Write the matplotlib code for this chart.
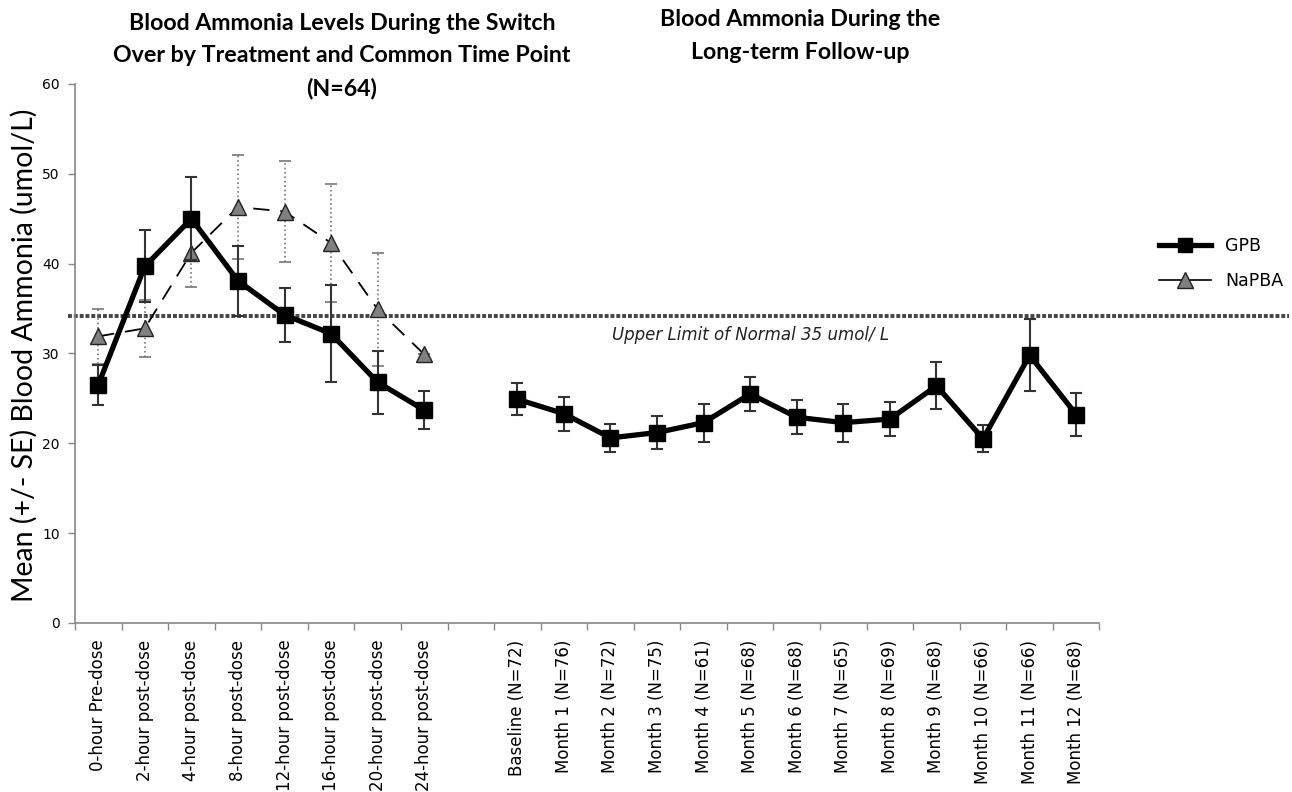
import numpy as np
import matplotlib
matplotlib.use("Agg")
import matplotlib.pyplot as plt
from matplotlib.lines import Line2D

# 데이터
switch_labels = ["0-hour Pre-dose", "2-hour post-dose", "4-hour post-dose", "8-hour post-dose",
                 "12-hour post-dose", "16-hour post-dose", "20-hour post-dose", "24-hour post-dose"]
gpb_switch = [26.5, 39.7, 45.0, 38.1, 34.3, 32.2, 26.8, 23.7]
gpb_switch_se = [2.2, 4.0, 4.6, 3.9, 3.0, 5.4, 3.5, 2.1]
napba_switch = [31.9, 32.8, 41.2, 46.3, 45.8, 42.3, 34.9, 29.9]
napba_switch_se = [3.1, 3.2, 3.8, 5.8, 5.6, 6.6, 6.3, 0.0]

followup_labels = ["Baseline (N=72)", "Month 1 (N=76)", "Month 2 (N=72)", "Month 3 (N=75)",
                   "Month 4 (N=61)", "Month 5 (N=68)", "Month 6 (N=68)", "Month 7 (N=65)",
                   "Month 8 (N=69)", "Month 9 (N=68)", "Month 10 (N=66)", "Month 11 (N=66)",
                   "Month 12 (N=68)"]
gpb_followup = [24.9, 23.3, 20.6, 21.2, 22.3, 25.5, 22.9, 22.3, 22.7, 26.4, 20.5, 29.8, 23.2]
gpb_followup_se = [1.8, 1.9, 1.6, 1.8, 2.1, 1.9, 1.9, 2.1, 1.9, 2.6, 1.5, 4.0, 2.4]

uln = 34.2  # 그림상 기준선 위치

# x 위치 (가운데 빈 칸 하나)
x_switch = np.arange(len(switch_labels))
x_follow = np.arange(len(followup_labels)) + len(switch_labels) + 1
all_labels = switch_labels + [""] + followup_labels
n_cat = len(all_labels)

fig = plt.figure(figsize=(12.92, 7.92), dpi=100)
ax = fig.add_axes([0.058, 0.2134, 0.793, 0.6806])

# 기준선
ax.axhline(uln, xmin=-0.007, xmax=1.185, clip_on=False, color="#444444",
           linestyle=(0, (1, 0.5)), linewidth=2.8, zorder=1)
ax.text(14.0, uln - 2.1, "Upper Limit of Normal 35 umol/ L", style="italic",
        fontsize=12, ha="center", va="center", color="#222222")

# NaPBA
eb = ax.errorbar(x_switch, napba_switch, yerr=napba_switch_se, fmt="none",
                 ecolor="#777777", elinewidth=1.2, capsize=4, capthick=1.2, zorder=2)
eb[2][0].set_linestyle(":")
ax.plot(x_switch, napba_switch, color="black", linewidth=1.3, linestyle=(0, (9, 6)),
        marker="^", markersize=12, markerfacecolor="#808080", markeredgecolor="#222222",
        markeredgewidth=1.0, zorder=3)

# GPB
ax.errorbar(x_switch, gpb_switch, yerr=gpb_switch_se, fmt="none",
            ecolor="#333333", elinewidth=1.5, capsize=4.5, capthick=1.5, zorder=4)
ax.errorbar(x_follow, gpb_followup, yerr=gpb_followup_se, fmt="none",
            ecolor="#333333", elinewidth=1.5, capsize=4.5, capthick=1.5, zorder=4)
ax.plot(x_switch, gpb_switch, color="black", linewidth=3.8, marker="s", markersize=11,
        markerfacecolor="black", markeredgecolor="black", zorder=5)
ax.plot(x_follow, gpb_followup, color="black", linewidth=3.8, marker="s", markersize=11,
        markerfacecolor="black", markeredgecolor="black", zorder=5)

# 축 설정
ax.set_xlim(-0.5, n_cat - 0.5)
ax.set_ylim(0, 60)
ax.set_yticks(np.arange(0, 61, 10))
ax.set_xticks(np.arange(n_cat))
ax.set_xticklabels(all_labels, rotation=90, fontsize=12, family="DejaVu Sans")
ax.set_xticks(np.arange(n_cat + 1) - 0.5, minor=True)
ax.tick_params(axis="x", which="major", length=0, pad=12)
ax.tick_params(axis="x", which="minor", length=5, color="#888888", width=1)
ax.tick_params(axis="y", length=5, color="#888888", width=1, labelsize=10, pad=6)
for s in ["top", "right"]:
    ax.spines[s].set_visible(False)
for s in ["left", "bottom"]:
    ax.spines[s].set_color("#888888")
    ax.spines[s].set_linewidth(1.2)

ax.set_ylabel("Mean (+/- SE) Blood Ammonia (umol/L)", fontsize=20.5, family="Lato")
ax.yaxis.set_label_coords(-0.036, 0.497)

# 제목
fig.text(342 / 1292, 1 - 56 / 792,
         "Blood Ammonia Levels During the Switch\nOver by Treatment and Common Time Point\n(N=64)",
         ha="center", va="center", fontsize=16.7, fontweight="bold", family="Lato",
         linespacing=1.65)
fig.text(800 / 1292, 1 - 36 / 792, "Blood Ammonia During the\nLong-term Follow-up",
         ha="center", va="center", fontsize=16.7, fontweight="bold", family="Lato",
         linespacing=1.65)

# 범례
handles = [
    Line2D([], [], color="black", linewidth=3.8, marker="s", markersize=10,
           markerfacecolor="black"),
    Line2D([], [], color="black", linewidth=1.2, marker="^", markersize=11,
           markerfacecolor="#808080", markeredgecolor="#222222"),
]
fig.legend(handles, ["GPB", "NaPBA"], loc="center left", bbox_to_anchor=(0.885, 0.667),
           frameon=False, fontsize=12.5, handlelength=3.0, labelspacing=1.0)

plt.savefig("out.png", dpi=100)
